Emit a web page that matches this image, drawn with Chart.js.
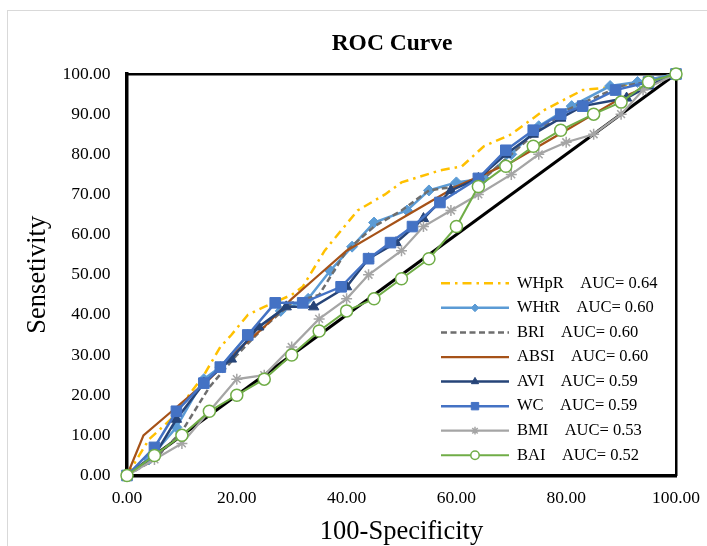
<!DOCTYPE html>
<html>
<head>
<meta charset="utf-8">
<script src="https://cdn.jsdelivr.net/npm/chart.js@4.4.1/dist/chart.umd.min.js"></script>
<style>
html, body { margin: 0; padding: 0; background: #fff; overflow: hidden; }
#frame { position: absolute; left: 7px; top: 10px; width: 768px; height: 558px; border: 1px solid #d9d9d9; }
canvas { display: block; }
</style>
</head>
<body>
<div id="frame"><canvas id="rocChart" width="768" height="558"></canvas></div>
<script>
var xTicks = [0, 20, 40, 60, 80, 100];
var yTicks = [0, 10, 20, 30, 40, 50, 60, 70, 80, 90, 100];

var seriesNames = ['WHpR', 'WHtR', 'BRI', 'ABSI', 'AVI', 'WC', 'BMI', 'BAI'];
var aucValues = ['0.64', '0.60', '0.60', '0.60', '0.59', '0.59', '0.53', '0.52'];

// 100-Specificity (x) and Sensitivity (y) per index
var fprWHpR = [0, 4, 8, 14, 17, 19, 22, 25, 30, 32, 36, 42, 47, 50, 57, 61, 65, 70, 76, 83, 90, 100];
var tprWHpR = [0, 9, 14, 25, 32, 35, 40, 42, 45, 47, 56, 66, 70, 73, 76, 77, 82, 85, 91, 96, 97, 100];

var fprWHtR = [0, 4, 9, 14, 17, 22, 28, 33, 37, 41, 45, 51, 55, 60, 65, 70, 75, 81, 88, 93, 100];
var tprWHtR = [0, 4, 12, 24, 27, 35, 41, 44, 51, 57, 63, 66, 71, 73, 74, 80, 87, 92, 97, 98, 100];

var fprBRI = [0, 5, 10, 15, 20, 25, 30, 35, 40, 45, 50, 55, 60, 65, 70, 75, 80, 85, 90, 95, 100];
var tprBRI = [0, 4, 11, 22, 30, 37, 43, 45, 56, 62, 66, 71, 72, 74, 80, 86, 91, 94, 97, 98, 100];

var fprABSI = [0, 3, 9, 15, 20, 25, 30, 35, 40, 45, 50, 55, 60, 65, 70, 75, 80, 85, 90, 95, 100];
var tprABSI = [0, 10, 17, 24, 31, 37, 44, 50, 56, 60, 64, 68, 72, 75, 78, 82, 86, 90, 94, 97, 100];

var fprAVI = [0, 5, 9, 14, 19, 24, 29, 34, 40, 44, 49, 54, 59, 64, 69, 74, 79, 83, 91, 95, 100];
var tprAVI = [0, 5, 14, 23, 29, 37, 42, 42, 47, 54, 58, 64, 71, 74, 80, 85, 89, 92, 94, 97, 100];

var fprWC = [0, 5, 9, 14, 17, 22, 27, 32, 39, 44, 48, 52, 57, 64, 69, 74, 79, 83, 89, 95, 100];
var tprWC = [0, 7, 16, 23, 27, 35, 43, 43, 47, 54, 58, 62, 68, 74, 81, 86, 90, 92, 96, 98, 100];

var fprBMI = [0, 5, 10, 15, 20, 25, 30, 35, 40, 44, 50, 54, 59, 64, 70, 75, 80, 85, 90, 94, 100];
var tprBMI = [0, 4, 8, 16, 24, 25, 32, 39, 44, 50, 56, 62, 66, 70, 75, 80, 83, 85, 90, 96, 100];

var fprBAI = [0, 5, 10, 15, 20, 25, 30, 35, 40, 45, 50, 55, 60, 64, 69, 74, 79, 85, 90, 95, 100];
var tprBAI = [0, 5, 10, 16, 20, 24, 30, 36, 41, 44, 49, 54, 62, 72, 77, 82, 86, 90, 93, 98, 100];

var fprRef = [0, 100];
var tprRef = [0, 100];

var FONT = "'Liberation Serif', 'Times New Roman', serif";

function pts(xs, ys) {
    return xs.map(function (x, i) { return { x: x, y: ys[i] }; });
}

// legend drawn inside the plot, line sample with marker in the middle
var rocLegend = {
    id: 'rocLegend',
    afterDatasetsDraw: function (chart, args, opts) {
        var ctx = chart.ctx;
        var y = opts.y;
        ctx.save();
        chart.data.datasets.forEach(function (ds) {
            if (ds.auc === undefined) return;
            ctx.strokeStyle = ds.borderColor;
            ctx.lineWidth = ds.borderWidth;
            ctx.setLineDash(ds.borderDash || []);
            ctx.beginPath();
            ctx.moveTo(opts.x, y);
            ctx.lineTo(opts.x + opts.lineLength, y);
            ctx.stroke();
            ctx.setLineDash([]);
            if (ds.pointRadius > 0) {
                ctx.fillStyle = ds.pointBackgroundColor;
                ctx.strokeStyle = ds.pointBorderColor;
                ctx.lineWidth = ds.pointBorderWidth;
                Chart.helpers.drawPoint(ctx, {
                    pointStyle: ds.pointStyle,
                    radius: ds.pointRadius * 0.7,
                    borderWidth: ds.pointBorderWidth,
                    rotation: 0
                }, opts.x + opts.lineLength / 2, y);
            }
            ctx.fillStyle = '#000';
            ctx.font = opts.font;
            ctx.textBaseline = 'middle';
            ctx.fillText(ds.label + '    AUC= ' + ds.auc, opts.x + opts.lineLength + opts.gap, y);
            y += opts.rowHeight;
        });
        ctx.restore();
    }
};

function lineSet(i, xs, ys, color, extra) {
    var ds = {
        label: seriesNames[i],
        auc: aucValues[i],
        data: pts(xs, ys),
        borderColor: color,
        backgroundColor: color,
        borderWidth: 2.5,
        pointRadius: 0,
        tension: 0,
        order: seriesNames.length - 1 - i
    };
    return Object.assign(ds, extra || {});
}

var datasets = [
    lineSet(0, fprWHpR, tprWHpR, '#FFC000', { borderDash: [9, 5, 2.5, 5] }),
    lineSet(1, fprWHtR, tprWHtR, '#5B9BD5', {
        pointStyle: 'rectRot', pointRadius: 5.5,
        pointBackgroundColor: '#5B9BD5', pointBorderColor: '#5B9BD5', pointBorderWidth: 1
    }),
    lineSet(2, fprBRI, tprBRI, '#6E6E6E', { borderDash: [6, 3.5] }),
    lineSet(3, fprABSI, tprABSI, '#A65218', { borderWidth: 2.25 }),
    lineSet(4, fprAVI, tprAVI, '#264478', {
        pointStyle: 'triangle', pointRadius: 6,
        pointBackgroundColor: '#264478', pointBorderColor: '#264478', pointBorderWidth: 1
    }),
    lineSet(5, fprWC, tprWC, '#4472C4', {
        pointStyle: 'rect', pointRadius: 7.5,
        pointBackgroundColor: '#4472C4', pointBorderColor: '#4472C4', pointBorderWidth: 1
    }),
    lineSet(6, fprBMI, tprBMI, '#A5A5A5', {
        borderWidth: 2.25,
        pointStyle: 'star', pointRadius: 5.5,
        pointBackgroundColor: '#A5A5A5', pointBorderColor: '#A5A5A5', pointBorderWidth: 1.5
    }),
    lineSet(7, fprBAI, tprBAI, '#70AD47', {
        borderWidth: 2,
        pointStyle: 'circle', pointRadius: 6,
        pointBackgroundColor: '#FFFFFF', pointBorderColor: '#70AD47', pointBorderWidth: 1.5
    }),
    {
        label: 'Reference',
        data: pts(fprRef, tprRef),
        borderColor: '#000000',
        borderWidth: 3,
        pointRadius: 0,
        order: 20
    }
];

new Chart(document.getElementById('rocChart'), {
    type: 'line',
    data: { datasets: datasets },
    options: {
        responsive: false,
        animation: false,
        clip: false,
        layout: { autoPadding: false, padding: { left: 0, right: 0, top: 0, bottom: 13.5 } },
        plugins: {
            legend: { display: false },
            tooltip: { enabled: false },
            title: {
                display: true,
                text: 'ROC Curve',
                color: '#000',
                font: { family: FONT, size: 23.5, weight: 'bold' },
                padding: { top: 19, bottom: 15.8 }
            },
            rocLegend: {
                x: 433, y: 272.3, lineLength: 68, gap: 8, rowHeight: 24.57,
                font: '16.5px ' + FONT
            }
        },
        scales: {
            x: {
                type: 'linear',
                min: 0, max: 100,
                afterBuildTicks: function (axis) { axis.ticks = xTicks.map(function (v) { return { value: v }; }); },
                ticks: {
                    color: '#000',
                    font: { family: FONT, size: 17.5 },
                    padding: 12,
                    callback: function (v) { return Number(v).toFixed(2); }
                },
                grid: { display: false, drawTicks: false },
                border: { display: true, color: '#000', width: 3.5 },
                title: {
                    display: true, text: '100-Specificity', color: '#000',
                    font: { family: FONT, size: 26.5 },
                    padding: { top: 0, bottom: 7.6 }
                },
                afterFit: function (axis) { axis.height = 80; }
            },
            xTop: {
                type: 'linear', position: 'top', min: 0, max: 100,
                ticks: { display: false },
                grid: { display: false, drawTicks: false },
                border: { display: true, color: '#000', width: 2.5 },
                afterFit: function (axis) { axis.height = 0; }
            },
            y: {
                type: 'linear',
                min: 0, max: 100,
                afterBuildTicks: function (axis) { axis.ticks = yTicks.map(function (v) { return { value: v }; }); },
                ticks: {
                    color: '#000',
                    font: { family: FONT, size: 17.5 },
                    padding: 16.5,
                    callback: function (v) { return Number(v).toFixed(2); }
                },
                grid: { display: false, drawTicks: false },
                border: { display: true, color: '#000', width: 3.5 },
                title: {
                    display: true, text: 'Sensetivity', color: '#000',
                    font: { family: FONT, size: 26.5 },
                    padding: { top: 14, bottom: 0 }
                },
                afterFit: function (axis) { axis.width = 119; }
            },
            yRight: {
                type: 'linear', position: 'right', min: 0, max: 100,
                ticks: { display: false },
                grid: { display: false, drawTicks: false },
                border: { display: true, color: '#000', width: 2.5 },
                afterFit: function (axis) { axis.width = 100; }
            }
        }
    },
    plugins: [rocLegend]
});
</script>
</body>
</html>
